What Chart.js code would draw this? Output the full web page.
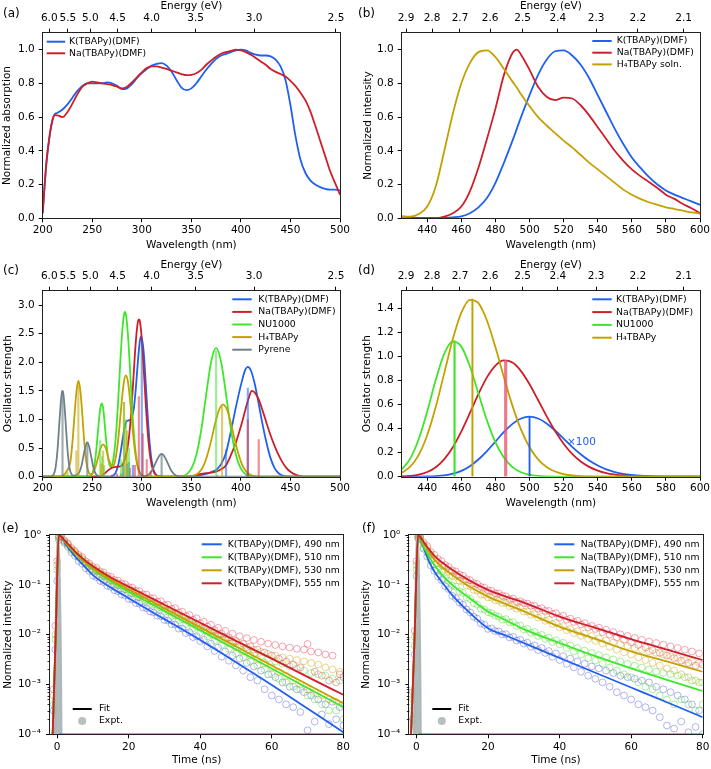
<!DOCTYPE html>
<html><head><meta charset="utf-8">
<script src="https://cdn.jsdelivr.net/npm/chart.js@4.4.1/dist/chart.umd.min.js"></script>
<style>
html,body{margin:0;padding:0;background:#fff;}
#fig{position:relative;width:711px;height:769px;overflow:hidden;background:#fff;font-family:"DejaVu Sans",sans-serif;}
canvas{position:absolute;}
.pl{position:absolute;font-size:12px;line-height:14px;color:#000;}
</style></head><body>
<div id="fig">
<canvas id="cA" width="355" height="262" style="left:0px;top:0px"></canvas>
<canvas id="cB" width="356" height="262" style="left:355px;top:0px"></canvas>
<canvas id="cC" width="355" height="262" style="left:0px;top:250px"></canvas>
<canvas id="cD" width="356" height="262" style="left:355px;top:250px"></canvas>
<canvas id="cE" width="355" height="264" style="left:0px;top:505px"></canvas>
<canvas id="cF" width="356" height="264" style="left:355px;top:505px"></canvas>
<div class="pl" style="left:3px;top:6px">(a)</div>
<div class="pl" style="left:358px;top:6px">(b)</div>
<div class="pl" style="left:3px;top:263px">(c)</div>
<div class="pl" style="left:358px;top:263px">(d)</div>
<div class="pl" style="left:2px;top:521px">(e)</div>
<div class="pl" style="left:362px;top:521px">(f)</div>
</div>
<script>
// ---------------- DATA ----------------
const HC = 1239.84;
const energyTicksUV = [6.0, 5.5, 5.0, 4.5, 4.0, 3.5, 3.0, 2.5];
const energyTicksVis = [2.9, 2.8, 2.7, 2.6, 2.5, 2.4, 2.3, 2.2, 2.1];
const wlTicksUV = [200, 250, 300, 350, 400, 450, 500];
const wlTicksVis = [440, 460, 480, 500, 520, 540, 560, 580, 600];
const timeTicks = [0, 20, 40, 60, 80];
const yTicksA = [0, 0.2, 0.4, 0.6, 0.8, 1.0];
const yTicksC = [0, 0.5, 1.0, 1.5, 2.0, 2.5, 3.0];
const yTicksD = [0, 0.2, 0.4, 0.6, 0.8, 1.0, 1.2, 1.4];
const yTicksLog = [1e-4, 1e-3, 1e-2, 1e-1, 1];

// (a) absorption
const lamA = [200,202,204,207,210,212,215,220,225,230,235,240,245,250,255,260,265,270,275,280,285,290,295,300,305,310,315,320,325,330,335,340,345,350,355,360,365,370,375,380,385,390,395,400,405,410,415,420,425,430,435,440,445,450,455,460,465,470,475,480,485,490,495,500];
const absK = [0.03,0.2,0.345,0.49,0.585,0.615,0.625,0.645,0.675,0.715,0.755,0.785,0.80,0.80,0.80,0.80,0.805,0.80,0.785,0.765,0.77,0.795,0.83,0.86,0.885,0.905,0.915,0.92,0.905,0.87,0.82,0.775,0.76,0.77,0.80,0.84,0.88,0.915,0.945,0.965,0.975,0.985,0.995,1.0,0.995,0.98,0.97,0.965,0.965,0.96,0.94,0.90,0.82,0.67,0.49,0.35,0.27,0.225,0.20,0.185,0.175,0.17,0.17,0.165];
const absNa = [0.03,0.2,0.345,0.49,0.585,0.612,0.61,0.60,0.63,0.68,0.735,0.78,0.80,0.81,0.805,0.80,0.795,0.79,0.78,0.77,0.78,0.805,0.835,0.865,0.89,0.90,0.90,0.893,0.885,0.875,0.865,0.855,0.848,0.85,0.86,0.88,0.91,0.935,0.958,0.975,0.985,0.992,1.0,0.995,0.985,0.97,0.95,0.93,0.91,0.885,0.868,0.855,0.84,0.815,0.785,0.745,0.70,0.635,0.55,0.46,0.37,0.28,0.21,0.14];

// (b) emission
const lamB = [425,430,435,440,445,450,455,460,465,470,475,480,485,490,492.5,495,500,505,510,515,520,525,530,535,540,545,550,555,560,565,570,575,580,585,590,595,600];
const emK = [0.012,0.006,0.003,0.002,0.002,0.003,0.006,0.012,0.03,0.065,0.12,0.21,0.33,0.46,0.53,0.60,0.73,0.85,0.94,0.99,0.995,0.965,0.91,0.83,0.73,0.63,0.53,0.44,0.36,0.30,0.245,0.20,0.165,0.14,0.12,0.10,0.08];
const emNa = [0,0,0,0,0,0.01,0.03,0.07,0.16,0.30,0.47,0.65,0.85,0.98,1.0,0.97,0.88,0.78,0.72,0.70,0.715,0.71,0.67,0.61,0.54,0.47,0.40,0.34,0.29,0.25,0.215,0.18,0.14,0.115,0.085,0.06,0.03];
const emH4 = [0.01,0.01,0.025,0.07,0.19,0.40,0.62,0.80,0.92,0.985,0.995,0.955,0.885,0.81,0.775,0.735,0.665,0.60,0.55,0.505,0.46,0.42,0.375,0.33,0.29,0.25,0.21,0.17,0.14,0.115,0.095,0.08,0.065,0.055,0.045,0.035,0.028];

// (c) computed UV spectra (curves) and stick transitions
const cKX = [200,266,270,272,274,276,278,280,282,284,286,288,290,292,294,296,298,299.5,302,304,306,308,310,312,314,316,320,350,355,360,365,370,375,380,385,390,395,400,404,407,410,414,418,422,426,430,434,438,442,448,455,500];
const cKY = [0,0,0.01,0.033,0.085,0.19,0.36,0.58,0.8,0.95,0.98,0.99,1.04,1.2,1.55,2.0,2.37,2.45,2.16,1.63,1.05,0.58,0.27,0.11,0.037,0.01,0,0,0.01,0.03,0.05,0.08,0.12,0.22,0.42,0.8,1.22,1.6,1.85,1.92,1.86,1.62,1.27,0.9,0.58,0.32,0.15,0.06,0.02,0.004,0,0];
const cNaX = [200,258,262,266,270,274,278,280,282,284,286,288,290,292,294,296,297,298,300,302,304,306,308,310,312,314,316,320,345,350,355,360,365,370,375,380,385,390,395,400,405,408,411,414,418,422,426,430,434,438,442,446,450,455,460,466,500];
const cNaY = [0,0,0.05,0.11,0.16,0.17,0.18,0.2,0.26,0.38,0.55,0.85,1.3,1.85,2.37,2.7,2.75,2.72,2.4,1.86,1.27,0.77,0.41,0.2,0.09,0.035,0.012,0.002,0,0.01,0.03,0.05,0.06,0.07,0.09,0.13,0.2,0.38,0.6,0.88,1.2,1.38,1.5,1.47,1.35,1.15,0.93,0.72,0.54,0.38,0.25,0.15,0.085,0.035,0.012,0,0];
const cNUX = [200,246,248,250,252,254,256,258,259.5,261,262,264,266,268,270,272,274,276,278,280,282,283,284,286,288,290,292,294,296,298,300,304,338,342,345,350,355,360,365,370,375,380,385,390,395,400,405,410,416,500];
const cNUY = [0,0.002,0.01,0.056,0.18,0.45,0.84,1.18,1.28,1.2,1.03,0.64,0.33,0.175,0.21,0.39,0.75,1.28,1.91,2.48,2.83,2.88,2.83,2.48,1.91,1.28,0.75,0.39,0.18,0.07,0.024,0.003,0,0.012,0.04,0.14,0.38,0.82,1.44,2.01,2.25,2.01,1.44,0.82,0.38,0.14,0.04,0.009,0,0];
const cH4X = [200,218,222,224,226,228,230,232,234,236,238,240,242,244,246,248,250,252,254,256,258,261,264,266,268,270,272,274,276,278,280,282,284,286,288,290,292,294,296,298,300,304,340,346,350,354,358,362,366,370,374,378,382,386,390,394,398,402,406,410,414,420,500];
const cH4Y = [0,0.005,0.04,0.09,0.15,0.27,0.6,1.05,1.48,1.68,1.5,1.08,0.6,0.26,0.1,0.045,0.05,0.11,0.21,0.34,0.48,0.56,0.48,0.34,0.24,0.18,0.21,0.36,0.62,0.98,1.36,1.66,1.77,1.66,1.36,0.98,0.61,0.34,0.16,0.07,0.026,0.004,0,0.003,0.009,0.029,0.08,0.18,0.37,0.63,0.93,1.17,1.26,1.17,0.93,0.63,0.37,0.18,0.08,0.029,0.009,0.001,0];
const cPyX = [200,208,211,213,215,217,219,220,221,223,225,227,229,231,233,235,237,239,241,243,245,247,249,251,253,255,258,262,298,302,306,310,314,318,320,322,326,330,334,338,344,500];
const cPyY = [0,0.003,0.04,0.16,0.48,0.99,1.43,1.5,1.43,0.99,0.48,0.16,0.045,0.02,0.025,0.04,0.08,0.18,0.35,0.52,0.6,0.52,0.345,0.173,0.066,0.02,0.003,0,0,0.008,0.026,0.1,0.243,0.375,0.4,0.375,0.243,0.1,0.026,0.005,0,0];
const sKX = [281,285,287,291,300,385,407];
const sKY = [0.2,0.22,0.25,0.2,2.4,0.47,1.55];
const sNaX = [270,275,279,288,293,297,301,305,309,376,407,418];
const sNaY = [0.03,0.05,0.05,0.15,0.2,1.4,0.75,0.3,0.1,0.02,1.0,0.65];
const sNUX = [258,260,262,279,282,284,287,375];
const sNUY = [0.63,0.35,0.2,0.3,1.3,1.0,0.5,2.2];
const sH4X = [225,234,236,259,261,282,285,381];
const sH4Y = [0.08,0.45,1.6,0.22,0.45,1.3,0.8,1.22];
const sPyX = [220,245,320];
const sPyY = [1.5,0.6,0.4];

// (d) lowest excitations
const lamD = [425,430,435,440,445,450,455,460,465,470,475,480,485,490,495,500,505,510,515,520,525,530,535,540,545,550,555,560,565,570,575,580,585,590,595,600];
const dK = [0,0.0001,0.0005,0.0016,0.0046,0.011,0.025,0.049,0.088,0.143,0.213,0.293,0.373,0.440,0.485,0.50,0.485,0.444,0.385,0.317,0.249,0.187,0.134,0.093,0.061,0.039,0.024,0.015,0.0085,0.0048,0.0026,0.0014,0.0007,0.0003,0,0];
const dNa = [0.002,0.0065,0.017,0.039,0.079,0.147,0.246,0.378,0.531,0.689,0.828,0.926,0.969,0.951,0.880,0.770,0.639,0.505,0.381,0.275,0.190,0.127,0.082,0.051,0.030,0.018,0.010,0.0056,0.003,0.0015,0.001,0,0,0,0,0];
const dNU = [0.061,0.151,0.314,0.546,0.807,1.025,1.127,1.084,0.920,0.695,0.469,0.286,0.159,0.080,0.037,0.016,0.0064,0.0024,0.0008,0.0003,0,0,0,0,0,0,0,0,0,0,0,0,0,0,0,0];
const dH4 = [0.033,0.083,0.182,0.348,0.582,0.865,1.147,1.367,1.474,1.447,1.302,1.078,0.827,0.590,0.393,0.246,0.145,0.081,0.043,0.021,0.010,0.0048,0.002,0.001,0,0,0,0,0,0,0,0,0,0,0,0];
const dStickX = [456, 466.5, 486, 500];
const dStickY = [1.13, 1.48, 0.97, 0.50];
const dNoteX = 522, dNoteY = 0.284;

// (e),(f) decays
const tFitE = [-1.25,-0.4,0.45,1,2,3,4,5,7.5,10,15,20,25,30,40,50,60,70,80];
const fitK490 = [1e-4,1e-2,1.0,0.93,0.72,0.57,0.46,0.37,0.24,0.157,0.088,0.054,0.033,0.0205,0.0078,0.0028,0.00098,0.00033,0.00011];
const fitK510 = [1e-4,1e-2,1.0,0.94,0.76,0.62,0.51,0.43,0.29,0.205,0.118,0.073,0.0467,0.0299,0.0123,0.00505,0.0021,0.00085,0.00035];
const fitK530 = [1e-4,1e-2,1.0,0.94,0.77,0.63,0.53,0.44,0.30,0.215,0.127,0.081,0.0524,0.0337,0.014,0.0058,0.0024,0.001,0.00042];
const fitK555 = [1e-4,1e-2,1.0,0.95,0.79,0.66,0.56,0.47,0.32,0.235,0.14,0.092,0.0605,0.0399,0.0173,0.0075,0.0033,0.00142,0.00062];
const tFitF = [-1.5,-0.5,0.45,1,2,3,4,5,7.5,10,15,20,25,30,40,50,60,70,80];
const fitNa490 = [1e-4,1e-2,1.0,0.85,0.55,0.36,0.25,0.185,0.105,0.062,0.027,0.0135,0.0096,0.0068,0.0034,0.00172,0.00087,0.00044,0.00022];
const fitNa510 = [1e-4,1e-2,1.0,0.85,0.58,0.43,0.32,0.25,0.15,0.1,0.053,0.029,0.0195,0.0129,0.0068,0.0037,0.0021,0.00124,0.00074];
const fitNa530 = [1e-4,1e-2,1.0,0.9,0.68,0.53,0.41,0.32,0.215,0.158,0.09,0.058,0.041,0.0295,0.0145,0.0082,0.0046,0.0029,0.0018];
const fitNa555 = [1e-4,1e-2,1.0,0.92,0.73,0.58,0.47,0.38,0.27,0.2,0.12,0.079,0.058,0.044,0.023,0.0137,0.0081,0.005,0.0031];

const tExp = [-1,-0.5,0,0.5,1,2,3,4,5,6,7,8,9,10,11,12,13,14,15,16,17,18,19,20,21,22,23,24,25,26,27,28,29,30,31,32,33,34,35,36,37,38,39,40,41,42,43,44,45,46,47,48,49,50,51,52,53,54,55,56,57,58,59,60,61,62,63,64,65,66,67,68,69,70,71,72,73,74,75,76,77,78,79,80];
const expK490 = [0.0003,0.005,0.12,0.8, 0.95,0.70,0.58,0.45,0.38,0.30,0.265,0.215,0.19,0.152, 0.143,0.12,0.114,0.096,0.091,0.078,0.074,0.064,0.061,0.052, 0.051,0.043,0.042,0.035,0.034,0.029,0.028,0.024,0.0235,0.0197, 0.0192,0.0162,0.016,0.0132,0.0133,0.0108,0.0112,0.0089,0.0093,0.0074, 0.0079,0.0058,0.0066,0.0047,0.0055,0.0036,0.0046,0.0030,0.0038,0.0024, 0.0033,0.0019,0.0027,0.0014,0.0023,0.0012,0.0019,0.0008,0.0016,0.0006, 0.0014,0.0005,0.0011,0.0004,0.0009,0.00035,0.0008,0.00028,0.0007,0.00012, 0.0006,0.00018,0.0005,0.00025,0.0004,0.00016,0.00045,0.0002,0.00035,0.00015];
const expK510 = [0.0004,0.008,0.2,0.9, 0.96,0.74,0.63,0.50,0.44,0.36,0.32,0.265,0.24,0.20, 0.188,0.162,0.151,0.129,0.121,0.104,0.100,0.085,0.082,0.071, 0.069,0.059,0.058,0.049,0.049,0.041,0.041,0.034,0.035,0.0285, 0.029,0.0236,0.0245,0.0196,0.0205,0.0162,0.0174,0.0134,0.0146,0.0110, 0.0123,0.0092,0.0104,0.0076,0.0090,0.0062,0.0077,0.0052,0.0066,0.0042, 0.0056,0.0035,0.0048,0.0029,0.0042,0.0024,0.0037,0.0020,0.0033,0.0016, 0.0029,0.0013,0.0026,0.0011,0.0023,0.0009,0.0021,0.0008,0.0019,0.0006, 0.0017,0.0005,0.0016,0.0004,0.0015,0.0003,0.0013,0.0003,0.0012,0.0002];
const expK530 = [0.0006,0.01,0.25,0.92, 0.97,0.76,0.65,0.52,0.45,0.37,0.33,0.275,0.25,0.21, 0.198,0.17,0.16,0.138,0.13,0.113,0.108,0.095,0.091,0.079, 0.077,0.066,0.064,0.055,0.054,0.047,0.045,0.039,0.038,0.033, 0.032,0.0275,0.027,0.023,0.0228,0.0193,0.0192,0.0162,0.0163,0.0136, 0.0139,0.0114,0.0118,0.0095,0.0101,0.0079,0.0086,0.0066,0.0074,0.0055, 0.0064,0.0046,0.0056,0.0038,0.0050,0.0032,0.0045,0.0027,0.0041,0.0022, 0.0038,0.0018,0.0035,0.0015,0.0033,0.0012,0.0031,0.0010,0.0029,0.0008, 0.0027,0.0007,0.0025,0.0006,0.0022,0.0005,0.0020,0.00045,0.0018,0.0004];
const expK555 = [0.0008,0.015,0.3,0.93, 0.97,0.78,0.68,0.55,0.48,0.40,0.36,0.295,0.27,0.23, 0.218,0.186,0.177,0.152,0.145,0.125,0.122,0.106,0.103,0.090, 0.088,0.076,0.075,0.064,0.064,0.054,0.054,0.046,0.047,0.039, 0.040,0.033,0.034,0.028,0.029,0.0236,0.0248,0.0200,0.0213,0.0170, 0.0182,0.0145,0.0158,0.0123,0.0137,0.0104,0.0120,0.0088,0.0105,0.0075, 0.0093,0.0066,0.0085,0.0058,0.0078,0.0050,0.0072,0.0044,0.0066,0.0038, 0.0062,0.0033,0.0058,0.0029,0.0055,0.0025,0.0052,0.0022,0.0050,0.0065, 0.0046,0.0018,0.0044,0.0015,0.0040,0.0012,0.0038,0.0011,0.0016,0.0014];
const expNa490 = [0.0002,0.004,0.15,0.85, 0.82,0.53,0.37,0.245,0.19,0.148,0.125,0.094,0.082,0.06, 0.054,0.044,0.04,0.032,0.028,0.023,0.021,0.0168,0.0158,0.013, 0.0133,0.0118,0.0116,0.0101,0.0102,0.0088,0.0090,0.0076,0.0079,0.0066, 0.0069,0.0057,0.0061,0.0049,0.0054,0.0043,0.0047,0.0036,0.0042,0.0031, 0.0037,0.0026,0.0033,0.0022,0.0029,0.0018,0.0026,0.0015,0.0023,0.0013, 0.0021,0.0011,0.0019,0.0009,0.0017,0.0007,0.0015,0.0006,0.0014,0.0005, 0.0013,0.0004,0.0012,0.00035,0.0011,0.0003,0.0009,0.00022,0.0008,0.00015, 0.0007,0.00013,0.0006,0.00018,0.0005,0.00011,0.0004,0.00014,0.0003,0.0001];
const expNa510 = [0.0003,0.006,0.2,0.9, 0.87,0.56,0.44,0.31,0.26,0.2,0.18,0.135,0.12,0.097, 0.092,0.074,0.069,0.056,0.052,0.043,0.040,0.033,0.032,0.028, 0.027,0.024,0.023,0.020,0.0205,0.0175,0.0178,0.0150,0.0153,0.0126, 0.0131,0.0109,0.0114,0.0094,0.0099,0.0082,0.0087,0.0071,0.0077,0.0064, 0.0069,0.0054,0.0061,0.0046,0.0054,0.0040,0.0048,0.0034,0.0043,0.0030, 0.0039,0.0026,0.0035,0.0022,0.0032,0.0019,0.0029,0.0016,0.0026,0.0014, 0.0024,0.0011,0.0022,0.0009,0.0020,0.0008,0.0018,0.0006,0.0017,0.0005, 0.0016,0.0004,0.0015,0.0005,0.0014,0.0004,0.0012,0.0003,0.0011,0.0004];
const expNa530 = [0.0005,0.009,0.25,0.93, 0.92,0.66,0.55,0.40,0.34,0.27,0.25,0.20,0.185,0.152, 0.145,0.121,0.115,0.097,0.093,0.079,0.076,0.064,0.063,0.056, 0.055,0.049,0.048,0.043,0.043,0.037,0.038,0.033,0.034,0.029, 0.029,0.025,0.026,0.022,0.023,0.019,0.0199,0.0164,0.0172,0.0140, 0.0148,0.0122,0.0131,0.0107,0.0117,0.0094,0.0105,0.0082,0.0094,0.0075, 0.0084,0.0066,0.0077,0.0057,0.0070,0.0050,0.0064,0.0044,0.0059,0.0040, 0.0054,0.0035,0.0050,0.0031,0.0046,0.0027,0.0043,0.0024,0.0040,0.0021, 0.0037,0.0019,0.0034,0.0016,0.0031,0.0014,0.0029,0.0012,0.0027,0.0011];
const expNa555 = [0.0007,0.012,0.3,0.95, 0.94,0.71,0.60,0.46,0.40,0.33,0.30,0.25,0.23,0.195, 0.186,0.160,0.152,0.130,0.124,0.108,0.104,0.091,0.088,0.077, 0.076,0.068,0.067,0.060,0.059,0.052,0.053,0.046,0.047,0.043, 0.042,0.038,0.038,0.033,0.034,0.030,0.030,0.026,0.027,0.022, 0.024,0.020,0.021,0.018,0.019,0.016,0.017,0.014,0.015,0.013, 0.0138,0.0112,0.0125,0.0100,0.0113,0.0088,0.0102,0.0079,0.0094,0.0070, 0.0086,0.0062,0.0079,0.0055,0.0073,0.0049,0.0068,0.0043,0.0063,0.0038, 0.0058,0.0034,0.0054,0.0030,0.0050,0.0027,0.0046,0.0024,0.0042,0.0025];
const tIrf = [-0.75,-0.6,-0.4,-0.2,0,0.2,0.4,0.6,0.8,1.0,1.15,1.25];
const irf = [6e-5,0.0015,0.025,0.2,0.62,0.98,0.85,0.4,0.09,0.012,0.0009,6e-5];
const floorT = [0.6, 80];
const floorY = [1e-4, 1e-4];

// ---------------- STYLE ----------------
const C_BLUE = '#2060f0', C_RED = '#cc1f2a', C_GREEN = '#3ee62a', C_GOLD = '#c4a000', C_GRAY = '#6f8088';
const S_BLUE = 'rgba(32,96,240,0.55)', S_RED = 'rgba(225,45,60,0.55)', S_GREEN = 'rgba(70,230,50,0.55)', S_GOLD = 'rgba(196,160,0,0.55)', S_GRAY = 'rgba(111,128,136,0.65)';
const P_BLUE = 'rgba(70,80,210,0.42)', P_GREEN = 'rgba(70,215,40,0.45)', P_GOLD = 'rgba(200,165,10,0.45)', P_RED = 'rgba(228,60,85,0.45)';
const FONT = 'DejaVu Sans';
Chart.defaults.font.family = FONT;
Chart.defaults.font.size = 10.5;
Chart.defaults.color = '#000';

const pts = (xs, ys) => xs.map((x, i) => ({x: x, y: ys[i]}));
const gridOpt = {display: true, drawOnChartArea: false, drawTicks: true, tickLength: 4, color: '#000', offset: false, lineWidth: 1};

function xBottom(min, max, ticks, title, h, pad, tpb) {
  return {type: 'linear', position: 'bottom', min: min, max: max, offset: false,
    afterBuildTicks: s => { s.ticks = ticks.map(v => ({value: v})); },
    ticks: {autoSkip: false, maxRotation: 0, padding: pad, callback: v => String(v)},
    grid: gridOpt, border: {display: false},
    title: {display: true, text: title, padding: {top: 0, bottom: tpb}},
    afterFit: s => { s.height = h; s.paddingLeft = 0; s.paddingRight = 0; }};
}
function xEnergy(min, max, energies, h, tpt) {
  return {type: 'linear', position: 'top', min: min, max: max, offset: false,
    afterBuildTicks: s => { s.ticks = energies.map(e => ({value: HC / e})); },
    ticks: {autoSkip: false, maxRotation: 0, padding: 4, callback: v => (HC / v).toFixed(1)},
    grid: gridOpt, border: {display: false},
    title: {display: true, text: 'Energy (eV)', padding: {top: tpt, bottom: 0}},
    afterFit: s => { s.height = h; s.paddingLeft = 0; s.paddingRight = 0; }};
}
function yLin(min, max, ticks, title, w, tpt) {
  return {type: 'linear', position: 'left', min: min, max: max,
    afterBuildTicks: s => { s.ticks = ticks.map(v => ({value: v})); },
    ticks: {padding: 4, callback: v => v.toFixed(1)},
    grid: gridOpt, border: {display: false},
    title: {display: true, text: title, padding: {top: tpt, bottom: 0}},
    afterFit: s => { s.width = w; s.paddingTop = 0; s.paddingBottom = 0; }};
}
const SUP = {'0': '10\u2070', '-1': '10\u207B\u00B9', '-2': '10\u207B\u00B2', '-3': '10\u207B\u00B3', '-4': '10\u207B\u2074'};
function yLog(w, tpt) {
  return {type: 'logarithmic', position: 'left', min: 1e-4, max: 1,
    afterBuildTicks: s => { s.ticks = yTicksLog.map(v => ({value: v})); },
    ticks: {padding: 5, callback: v => SUP[String(Math.round(Math.log10(v)))]},
    grid: gridOpt, border: {display: false},
    title: {display: true, text: 'Normalized intensity', padding: {top: tpt, bottom: 0}},
    afterFit: s => { s.width = w; s.paddingTop = 0; s.paddingBottom = 0; }};
}

function line(xs, ys, color, order, w) {
  return {type: 'line', data: pts(xs, ys), borderColor: color, backgroundColor: color, borderWidth: w || 1.8,
    pointRadius: 0, fill: false, cubicInterpolationMode: 'monotone', order: order};
}
function sticks(xs, ys, color, order, thick) {
  return {type: 'bar', data: pts(xs, ys), backgroundColor: color, borderWidth: 0, barThickness: thick || 1.5, grouped: false, order: order};
}
function dots(xs, ys, color, order) {
  return {type: 'line', showLine: false, data: pts(xs, ys), pointRadius: 3.4, pointBorderWidth: 1,
    pointBackgroundColor: 'rgba(0,0,0,0)', pointBorderColor: color, borderColor: color, order: order};
}

// ---------------- PLUGINS ----------------
Chart.register({
  id: 'frame',
  afterDatasetsDraw(chart) {
    const a = chart.chartArea, ctx = chart.ctx;
    ctx.save(); ctx.strokeStyle = '#222'; ctx.lineWidth = 1;
    ctx.strokeRect(Math.round(a.left) - 0.5, Math.round(a.top) - 0.5, Math.round(a.right) - Math.round(a.left) + 1, Math.round(a.bottom) - Math.round(a.top) + 1);
    ctx.restore();
  }
});
Chart.register({
  id: 'inLegend',
  afterDraw(chart, args, opts) {
    if (!opts || !opts.groups) return;
    const ctx = chart.ctx;
    ctx.save();
    ctx.font = '9.3px "' + FONT + '"';
    ctx.textBaseline = 'middle'; ctx.textAlign = 'left';
    opts.groups.forEach(g => {
      g.items.forEach((it, i) => {
        const y = g.y + i * g.dy;
        if (it.dot) {
          ctx.fillStyle = it.color; ctx.beginPath(); ctx.arc(g.x + g.len / 2, y, 4, 0, 2 * Math.PI); ctx.fill();
        } else {
          ctx.strokeStyle = it.color; ctx.lineWidth = 2; ctx.beginPath(); ctx.moveTo(g.x, y); ctx.lineTo(g.x + g.len, y); ctx.stroke();
        }
        ctx.fillStyle = '#000'; ctx.fillText(it.label, g.tx, y);
      });
    });
    ctx.restore();
  }
});
Chart.register({
  id: 'note',
  afterDraw(chart, args, opts) {
    if (!opts || !opts.text) return;
    const ctx = chart.ctx;
    const x = chart.scales.x.getPixelForValue(opts.x), y = chart.scales.y.getPixelForValue(opts.y);
    ctx.save(); ctx.font = '10.5px "' + FONT + '"'; ctx.fillStyle = opts.color; ctx.textBaseline = 'middle'; ctx.textAlign = 'left';
    ctx.fillText(opts.text, x, y); ctx.restore();
  }
});
Chart.register({
  id: 'minorLog',
  afterDraw(chart, args, opts) {
    if (!opts || !opts.on) return;
    const ctx = chart.ctx, ys = chart.scales.y, L = chart.chartArea.left;
    ctx.save(); ctx.strokeStyle = '#000'; ctx.lineWidth = 0.8; ctx.beginPath();
    for (let k = -4; k < 0; k++) for (let m = 2; m <= 9; m++) {
      const p = Math.round(ys.getPixelForValue(m * Math.pow(10, k))) + 0.5;
      ctx.moveTo(L - 2.5, p); ctx.lineTo(L, p);
    }
    ctx.stroke(); ctx.restore();
  }
});

function mk(id, datasets, scales, padRight, padTop, plugins) {
  return new Chart(document.getElementById(id), {
    type: 'line',
    data: {datasets: datasets},
    options: {responsive: false, animation: false, events: [],
      layout: {padding: {left: 0, right: padRight, top: padTop, bottom: 0}},
      scales: scales,
      plugins: Object.assign({legend: {display: false}, tooltip: {enabled: false}}, plugins)}
  });
}

// (a)
mk('cA', [line(lamA, absNa, C_RED, 1), line(lamA, absK, C_BLUE, 2)], {
  x: xBottom(200, 500, wlTicksUV, 'Wavelength (nm)', 43.7, 1.4, 10.7),
  xTop: xEnergy(200, 500, energyTicksUV, 32.7, 0),
  y: yLin(0, 1.1, yTicksA, 'Normalized absorption', 42.7, 1.2)
}, 15, 0, {inLegend: {groups: [{x: 46.7, len: 18.5, tx: 69, y: 41.7, dy: 11.6, items: [
  {label: 'K(TBAPy)(DMF)', color: C_BLUE}, {label: 'Na(TBAPy)(DMF)', color: C_RED}]}]}});

// (b)
mk('cB', [line(lamB, emH4, C_GOLD, 1), line(lamB, emNa, C_RED, 2), line(lamB, emK, C_BLUE, 3)], {
  x: xBottom(425, 600, wlTicksVis, 'Wavelength (nm)', 43.7, 1.4, 10.7),
  xTop: xEnergy(425, 600, energyTicksVis, 32.7, 0),
  y: yLin(0, 1.1, yTicksA, 'Normalized intensity', 46.7, 6.5)
}, 11, 0, {inLegend: {groups: [{x: 237.3, len: 19.4, tx: 261.7, y: 41, dy: 11.7, items: [
  {label: 'K(TBAPy)(DMF)', color: C_BLUE}, {label: 'Na(TBAPy)(DMF)', color: C_RED}, {label: 'H\u2084TBAPy soln.', color: C_GOLD}]}]}});

// (c)
mk('cC', [
  sticks(sPyX, sPyY, S_GRAY, 1), sticks(sH4X, sH4Y, S_GOLD, 1), sticks(sNUX, sNUY, S_GREEN, 1), sticks(sNaX, sNaY, S_RED, 1), sticks(sKX, sKY, S_BLUE, 1),
  line(cPyX, cPyY, C_GRAY, 2), line(cH4X, cH4Y, C_GOLD, 3), line(cNUX, cNUY, C_GREEN, 4), line(cNaX, cNaY, C_RED, 5), line(cKX, cKY, C_BLUE, 6)
], {
  x: xBottom(200, 500, wlTicksUV, 'Wavelength (nm)', 35.3, 1.4, 2.7),
  xTop: xEnergy(200, 500, energyTicksUV, 40.7, 8.7),
  y: yLin(0, 3.25, yTicksC, 'Oscillator strength', 42.7, 1.7)
}, 15, 0, {inLegend: {groups: [{x: 232.3, len: 19.4, tx: 258.3, y: 49.3, dy: 12.6, items: [
  {label: 'K(TBAPy)(DMF)', color: C_BLUE}, {label: 'Na(TBAPy)(DMF)', color: C_RED}, {label: 'NU1000', color: C_GREEN},
  {label: 'H\u2084TBAPy', color: C_GOLD}, {label: 'Pyrene', color: C_GRAY}]}]}});

// (d)
mk('cD', [
  sticks([dStickX[0]], [dStickY[0]], C_GREEN, 1, 1.5), sticks([dStickX[1]], [dStickY[1]], C_GOLD, 1, 1.3),
  sticks([dStickX[2]], [dStickY[2]], 'rgba(230,90,110,0.8)', 1, 2.5), sticks([dStickX[3]], [dStickY[3]], C_BLUE, 1, 1.2),
  line(lamD, dH4, C_GOLD, 2), line(lamD, dNU, C_GREEN, 3), line(lamD, dNa, C_RED, 4), line(lamD, dK, C_BLUE, 5)
], {
  x: xBottom(425, 600, wlTicksVis, 'Wavelength (nm)', 35.3, 1.4, 2.7),
  xTop: xEnergy(425, 600, energyTicksVis, 40.7, 8.7),
  y: yLin(0, 1.55, yTicksD, 'Oscillator strength', 46.7, 5.7)
}, 11, 0, {
  inLegend: {groups: [{x: 237.3, len: 19.4, tx: 261, y: 49.3, dy: 12.8, items: [
    {label: 'K(TBAPy)(DMF)', color: C_BLUE}, {label: 'Na(TBAPy)(DMF)', color: C_RED}, {label: 'NU1000', color: C_GREEN}, {label: 'H\u2084TBAPy', color: C_GOLD}]}]},
  note: {text: '\u00D7100', x: dNoteX, y: dNoteY, color: C_BLUE}
});

// (e)
mk('cE', [
  line(floorT, floorY, C_BLUE, 0, 1.5),
  line(tFitE, fitK555, C_RED, 1), line(tFitE, fitK530, C_GOLD, 2), line(tFitE, fitK510, C_GREEN, 3), line(tFitE, fitK490, C_BLUE, 4),
  Object.assign(line(tIrf, irf, 'rgba(170,180,180,0.9)', 5, 0), {fill: 'start'}),
  dots(tExp, expK555, P_RED, 6), dots(tExp, expK530, P_GOLD, 7), dots(tExp, expK510, P_GREEN, 8), dots(tExp, expK490, P_BLUE, 9)
], {
  x: xBottom(-2, 80, timeTicks, 'Time (ns)', 34.7, 2.7, 2.7),
  y: yLog(50, 1.7)
}, 11.7, 30, {
  minorLog: {on: true},
  inLegend: {groups: [
    {x: 201.7, len: 20, tx: 227.7, y: 39.3, dy: 13, items: [
      {label: 'K(TBAPy)(DMF), 490 nm', color: C_BLUE}, {label: 'K(TBAPy)(DMF), 510 nm', color: C_GREEN},
      {label: 'K(TBAPy)(DMF), 530 nm', color: C_GOLD}, {label: 'K(TBAPy)(DMF), 555 nm', color: C_RED}]},
    {x: 72.7, len: 19, tx: 99, y: 204, dy: 12, items: [
      {label: 'Fit', color: '#000'}, {label: 'Expt.', color: 'rgba(160,170,170,0.75)', dot: true}]}]}
});

// (f)
mk('cF', [
  line(floorT, floorY, C_BLUE, 0, 1.5),
  line(tFitF, fitNa555, C_RED, 1), line(tFitF, fitNa530, C_GOLD, 2), line(tFitF, fitNa510, C_GREEN, 3), line(tFitF, fitNa490, C_BLUE, 4),
  Object.assign(line(tIrf, irf, 'rgba(170,180,180,0.9)', 5, 0), {fill: 'start'}),
  dots(tExp, expNa555, P_RED, 6), dots(tExp, expNa530, P_GOLD, 7), dots(tExp, expNa510, P_GREEN, 8), dots(tExp, expNa490, P_BLUE, 9)
], {
  x: xBottom(-2, 80, timeTicks, 'Time (ns)', 34.7, 2.7, 2.7),
  y: yLog(54.3, 5)
}, 8.3, 30, {
  minorLog: {on: true},
  inLegend: {groups: [
    {x: 199.3, len: 20, tx: 225.7, y: 39.3, dy: 13, items: [
      {label: 'Na(TBAPy)(DMF), 490 nm', color: C_BLUE}, {label: 'Na(TBAPy)(DMF), 510 nm', color: C_GREEN},
      {label: 'Na(TBAPy)(DMF), 530 nm', color: C_GOLD}, {label: 'Na(TBAPy)(DMF), 555 nm', color: C_RED}]},
    {x: 77.3, len: 19, tx: 103.3, y: 204, dy: 12, items: [
      {label: 'Fit', color: '#000'}, {label: 'Expt.', color: 'rgba(160,170,170,0.75)', dot: true}]}]}
});
</script>
</body></html>
